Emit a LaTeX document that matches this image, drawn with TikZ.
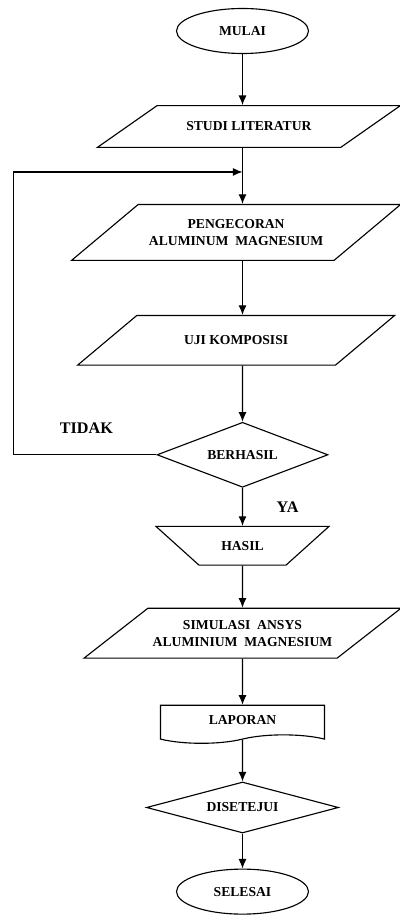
\documentclass[tikz,border=0pt]{standalone}
\usepackage{fontspec}
\setmainfont{Liberation Serif}
\usetikzlibrary{shapes,arrows.meta,positioning}

\tikzset{
  every node/.style={font=\bfseries\fontsize{9.7}{12}\selectfont, align=center},
  terminal/.style={draw, ellipse, minimum width=3.3cm, minimum height=1.125cm, inner sep=0pt},
  io/.style={draw, trapezium, trapezium stretches body, inner xsep=2pt},
  decision/.style={draw, diamond, inner sep=0pt, aspect=2.6},
  report/.style={draw, tape, tape bend top=none, tape bend height=6pt, minimum width=4.1cm, minimum height=0.95cm},
  answer/.style={font=\bfseries\fontsize{11.5}{13}\selectfont}
}

\begin{document}
\begin{tikzpicture}[auto, node distance=1.2, >={Latex[length=2.4mm,width=2mm]}, line width=0.8pt]
	\useasboundingbox (0,0) rectangle (10,-22.875);
	% We start by placing the blocks
	\node [terminal] (mulai) at (6.0625,-0.775) {MULAI};
	\node [io, below=1.275 of mulai, xshift=0.16cm, trapezium left angle=35, trapezium right angle=145, minimum width=7.575cm, inner ysep=11.6pt] (studi) {STUDI LITERATUR};
	\node [io, below=1.4 of studi, xshift=-0.32cm, trapezium left angle=40, trapezium right angle=140, minimum width=8.225cm, inner ysep=10.6pt] (pengecoran) {PENGECORAN\\ALUMINUM~~MAGNESIUM};
	\node [io, below=1.35 of pengecoran, trapezium left angle=40, trapezium right angle=140, minimum width=7.925cm, inner ysep=14.4pt] (uji) {UJI KOMPOSISI};
	\node [decision, below=1.4 of uji, xshift=0.16cm, minimum width=4.275cm, minimum height=1.625cm] (berhasil) {BERHASIL};
	\node [io, below=0.95 of berhasil, trapezium left angle=138, trapezium right angle=138, minimum width=4.325cm, inner ysep=10.5pt] (hasil) {HASIL};
	\node [io, below=1.05 of hasil, trapezium left angle=38, trapezium right angle=142, minimum width=7.925cm, inner ysep=8.5pt] (simulasi) {SIMULASI~~ANSYS\\ALUMINIUM~~MAGNESIUM};
	\node [report, below=1.15 of simulasi] (laporan) {LAPORAN};
	\node [decision, below=1.15 of laporan, minimum width=4.8cm, minimum height=1.275cm] (disetujui) {DISETEJUI};
	\node [terminal, below=0.875 of disetujui] (selesai) {SELESAI};
	\coordinate (join) at ([yshift=-0.6cm]studi.south -| mulai);
	% Once the nodes are placed, connecting them is easy.
	\draw [->] (mulai) -- (studi.north -| mulai);
	\draw [->] (studi.south -| mulai) -- (pengecoran.north -| mulai);
	\draw [->] (pengecoran.south -| mulai) -- (uji.north -| mulai);
	\draw [->] (uji.south -| mulai) -- (berhasil);
	\draw [->] (berhasil) -- node [answer, right=0.72cm] {YA} (hasil);
	\draw [->] (berhasil.west) -- node [answer, above=0.4cm, pos=0.49] {TIDAK} ++(-3.575,0) |- (join);
	\draw [->] (hasil) -- (simulasi.north -| hasil);
	\draw [->] (simulasi.south -| hasil) -- (laporan);
	\draw [->] (laporan) -- (disetujui);
	\draw [->] (disetujui) -- (selesai);
\end{tikzpicture}
\end{document}
